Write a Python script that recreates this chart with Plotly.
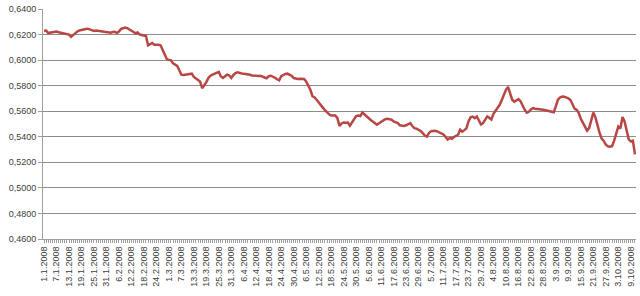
import datetime as dt
import plotly.graph_objects as go

# Daily categories 1.1.2008 .. 11.10.2008
start = dt.date(2008, 1, 1)
n_days = 285
dates = [f"{(start + dt.timedelta(days=k)).day}.{(start + dt.timedelta(days=k)).month}.2008" for k in range(n_days)]

values = [
    0.6230, 0.6232, 0.6212, 0.6215, 0.6216, 0.6218, 0.6224, 0.6218, 0.6214, 0.6210,
    0.6210, 0.6206, 0.6200, 0.6182, 0.6196, 0.6212, 0.6224, 0.6232, 0.6238, 0.6242,
    0.6244, 0.6246, 0.6240, 0.6234, 0.6228, 0.6232, 0.6230, 0.6228, 0.6224, 0.6222,
    0.6220, 0.6218, 0.6214, 0.6220, 0.6222, 0.6212, 0.6224, 0.6244, 0.6250, 0.6254,
    0.6250, 0.6242, 0.6230, 0.6220, 0.6210, 0.6216, 0.6200, 0.6196, 0.6194, 0.6188,
    0.6116, 0.6124, 0.6134, 0.6120, 0.6122, 0.6120, 0.6116, 0.6080, 0.6030, 0.6008,
    0.6002, 0.5998, 0.5975, 0.5962, 0.5955, 0.5920, 0.5886, 0.5884, 0.5886, 0.5888,
    0.5890, 0.5894, 0.5868, 0.5855, 0.5840, 0.5832, 0.5780, 0.5800, 0.5828, 0.5860,
    0.5878, 0.5886, 0.5892, 0.5900, 0.5908, 0.5872, 0.5860, 0.5874, 0.5886, 0.5880,
    0.5860, 0.5884, 0.5898, 0.5904, 0.5898, 0.5896, 0.5894, 0.5892, 0.5888, 0.5885,
    0.5880, 0.5878, 0.5878, 0.5876, 0.5878, 0.5868, 0.5864, 0.5858, 0.5874, 0.5878,
    0.5872, 0.5862, 0.5850, 0.5842, 0.5874, 0.5884, 0.5892, 0.5894, 0.5886, 0.5877,
    0.5860, 0.5854, 0.5853, 0.5854, 0.5852, 0.5853, 0.5832, 0.5800, 0.5768, 0.5718,
    0.5708, 0.5690, 0.5666, 0.5645, 0.5628, 0.5608, 0.5590, 0.5576, 0.5566, 0.5564,
    0.5566, 0.5546, 0.5484, 0.5504, 0.5512, 0.5510, 0.5512, 0.5486, 0.5515, 0.5538,
    0.5562, 0.5566, 0.5562, 0.5590, 0.5574, 0.5560, 0.5546, 0.5532, 0.5520, 0.5505,
    0.5494, 0.5506, 0.5518, 0.5530, 0.5538, 0.5541, 0.5540, 0.5534, 0.5520, 0.5512,
    0.5508, 0.5490, 0.5488, 0.5484, 0.5490, 0.5500, 0.5507, 0.5484, 0.5468, 0.5464,
    0.5456, 0.5445, 0.5428, 0.5410, 0.5402, 0.5430, 0.5444, 0.5446, 0.5447, 0.5442,
    0.5434, 0.5428, 0.5418, 0.5398, 0.5378, 0.5390, 0.5384, 0.5398, 0.5408, 0.5416,
    0.5455, 0.5440, 0.5452, 0.5466, 0.5520, 0.5552, 0.5558, 0.5546, 0.5559, 0.5520,
    0.5496, 0.5507, 0.5532, 0.5559, 0.5548, 0.5536, 0.5580, 0.5605, 0.5622, 0.5650,
    0.5688, 0.5730, 0.5768, 0.5790, 0.5730, 0.5690, 0.5674, 0.5686, 0.5695, 0.5678,
    0.5640, 0.5612, 0.5588, 0.5596, 0.5614, 0.5624, 0.5620, 0.5616, 0.5618, 0.5614,
    0.5611, 0.5608, 0.5606, 0.5603, 0.5596, 0.5592, 0.5640, 0.5690, 0.5708, 0.5715,
    0.5714, 0.5710, 0.5700, 0.5688, 0.5656, 0.5620, 0.5610, 0.5585, 0.5540, 0.5507,
    0.5470, 0.5448, 0.5470, 0.5540, 0.5590, 0.5552, 0.5484, 0.5430, 0.5385, 0.5368,
    0.5338, 0.5326, 0.5322, 0.5326, 0.5370, 0.5430, 0.5480, 0.5465, 0.5555, 0.5520,
    0.5458, 0.5380, 0.5364, 0.5370, 0.5262,
]

label_step = 6
tick_text = [d if k % label_step == 0 else "" for k, d in enumerate(dates)]
y_ticks = [0.46, 0.48, 0.50, 0.52, 0.54, 0.56, 0.58, 0.60, 0.62, 0.64]

fig = go.Figure()
fig.add_trace(go.Scatter(
    x=dates, y=values, mode="lines",
    line=dict(color="#B84744", width=2.5),
    showlegend=False, hoverinfo="skip",
))

fig.update_layout(
    width=640, height=296,
    margin=dict(l=43, r=4, t=9, b=57),
    paper_bgcolor="white", plot_bgcolor="white",
    separators=", ",
    font=dict(family="Liberation Sans", size=9, color="#404040"),
)
fig.update_xaxes(
    type="category",
    tickmode="array", tickvals=dates, ticktext=tick_text,
    tickangle=-90, ticks="outside", ticklen=3, tickcolor="#A0A0A0", tickwidth=1,
    showline=True, linecolor="#A0A0A0", linewidth=1,
    showgrid=False, tickfont=dict(size=9, color="#404040"),
    range=[-0.5, n_days - 0.5],
)
fig.update_yaxes(
    range=[0.46, 0.64], tickvals=y_ticks, tickformat=".4f",
    showgrid=True, gridcolor="#8C8C8C", gridwidth=1,
    showline=True, linecolor="#A0A0A0", linewidth=1,
    ticks="outside", ticklen=4, tickcolor="#A0A0A0",
    zeroline=False, tickfont=dict(size=9, color="#404040"),
)

fig.write_html("out.html")
